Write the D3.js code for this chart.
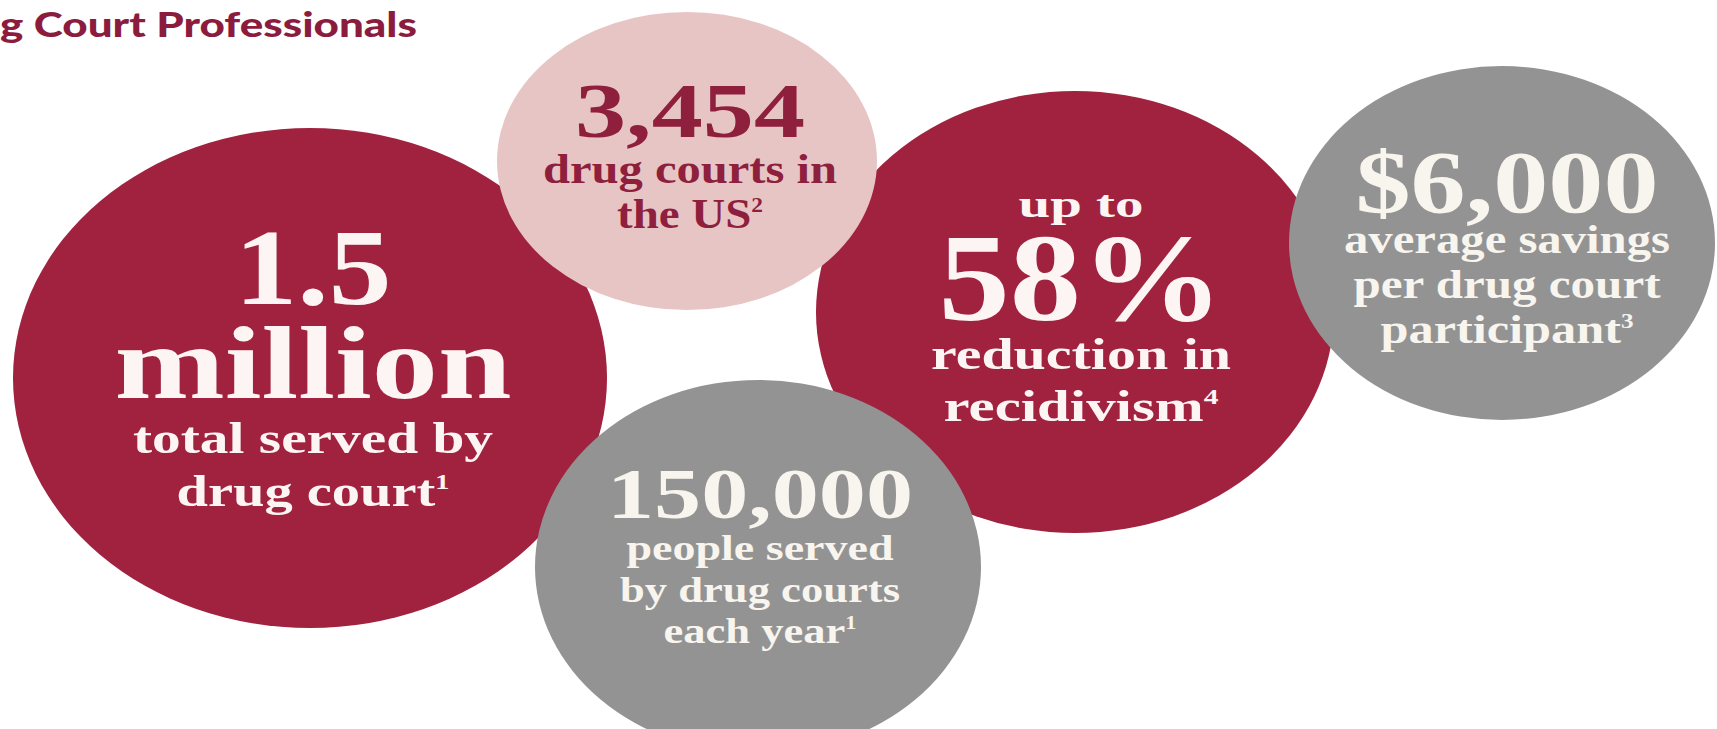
<!DOCTYPE html>
<html><head><meta charset="utf-8">
<script src="https://cdn.jsdelivr.net/npm/d3@7"></script>
<style>html,body{margin:0;padding:0;background:#fff;overflow:hidden}</style>
</head><body><svg id="chart" width="1717" height="729"></svg>
<script>
// ---------- data ----------
const titleText = "g Court Professionals";
const statIds = ["served", "courts", "recidivism", "yearly", "savings"];
const statLines = [
  ["1.5", "million", "total served by", "drug court"],
  ["3,454", "drug courts in", "the US"],
  ["up to", "58%", "reduction in", "recidivism"],
  ["150,000", "people served", "by drug courts", "each year"],
  ["$6,000", "average savings", "per drug court", "participant"]
];
const footnoteRefs = ["1", "2", "4", "1", "3"];
const statTones = ["dark", "light", "dark", "grey", "grey"];

// ---------- layout / style ----------
const W = 1717, H = 729;
const toneFill = {dark: "#a0223f", light: "#e8c5c5", grey: "#939393"};
const toneText = {dark: "#fdf5f3", light: "#8e1f3d", grey: "#f8f4ee"};
const drawOrder = ["served", "recidivism", "courts", "yearly", "savings"];
const bubbleLayout = {
  served:     {cx: 310,  cy: 378, rx: 297, ry: 250, tx: 313},
  courts:     {cx: 687,  cy: 161, rx: 190, ry: 149, tx: 690},
  recidivism: {cx: 1075, cy: 312, rx: 259, ry: 221, tx: 1081},
  yearly:     {cx: 758,  cy: 567, rx: 223, ry: 187, tx: 760},
  savings:    {cx: 1502, cy: 243, rx: 213, ry: 177, tx: 1507}
};
// per line: baseline offset from centre, font size, rendered width
const lineLayout = {
  served:     [{dy: -74, fs: 107, w: 157}, {dy: 20, fs: 104, w: 397}, {dy: 75, fs: 44, w: 360}, {dy: 128, fs: 44, w: 273}],
  courts:     [{dy: -24, fs: 78, w: 230}, {dy: 22, fs: 42, w: 294}, {dy: 67, fs: 42, w: 146}],
  recidivism: [{dy: -95, fs: 38, w: 125}, {dy: 8, fs: 124, w: 285}, {dy: 57, fs: 44, w: 300}, {dy: 109, fs: 44, w: 275}],
  yearly:     [{dy: -49, fs: 72, w: 306}, {dy: -7, fs: 36, w: 267}, {dy: 35, fs: 36, w: 280}, {dy: 76, fs: 36, w: 193}],
  savings:    [{dy: -31, fs: 89, w: 303}, {dy: 10, fs: 40, w: 326}, {dy: 55, fs: 40, w: 307}, {dy: 100, fs: 40, w: 253}]
};

const stats = statIds.map((id, i) => ({id, lines: statLines[i], note: footnoteRefs[i], tone: statTones[i]}));
const byId = new Map(stats.map(d => [d.id, d]));
const ordered = drawOrder.map(id => byId.get(id));

const svg = d3.select("#chart").attr("viewBox", `0 0 ${W} ${H}`);
svg.append("rect").attr("width", W).attr("height", H).attr("fill", "#ffffff");

// title
svg.append("text")
  .attr("x", 0).attr("y", 37)
  .attr("font-family", "Lato, 'DejaVu Sans', sans-serif")
  .attr("font-weight", 900)
  .attr("font-size", 34)
  .attr("fill", "#8c1c3e")
  .attr("textLength", 417)
  .attr("lengthAdjust", "spacingAndGlyphs")
  .text(titleText);

// bubbles
const g = svg.selectAll("g.stat").data(ordered).join("g").attr("class", "stat");

g.append("ellipse")
  .attr("cx", d => bubbleLayout[d.id].cx)
  .attr("cy", d => bubbleLayout[d.id].cy)
  .attr("rx", d => bubbleLayout[d.id].rx)
  .attr("ry", d => bubbleLayout[d.id].ry)
  .attr("fill", d => toneFill[d.tone]);

g.each(function(d) {
  const L = bubbleLayout[d.id];
  const rows = d.lines.map((t, i) => ({text: t, last: i === d.lines.length - 1, note: d.note, ...lineLayout[d.id][i]}));
  const txt = d3.select(this).selectAll("text").data(rows).join("text")
    .attr("x", L.tx)
    .attr("y", r => L.cy + r.dy)
    .attr("text-anchor", "middle")
    .attr("font-family", "'Liberation Serif', 'DejaVu Serif', serif")
    .attr("font-weight", 700)
    .attr("font-size", r => r.fs)
    .attr("fill", toneText[d.tone])
    .attr("textLength", r => r.w)
    .attr("lengthAdjust", "spacingAndGlyphs");
  txt.append("tspan").text(r => r.text);
  txt.filter(r => r.last).append("tspan")
    .attr("font-size", r => r.fs * 0.5)
    .attr("dy", r => -r.fs * 0.38)
    .text(r => r.note);
});
</script>
</body></html>
